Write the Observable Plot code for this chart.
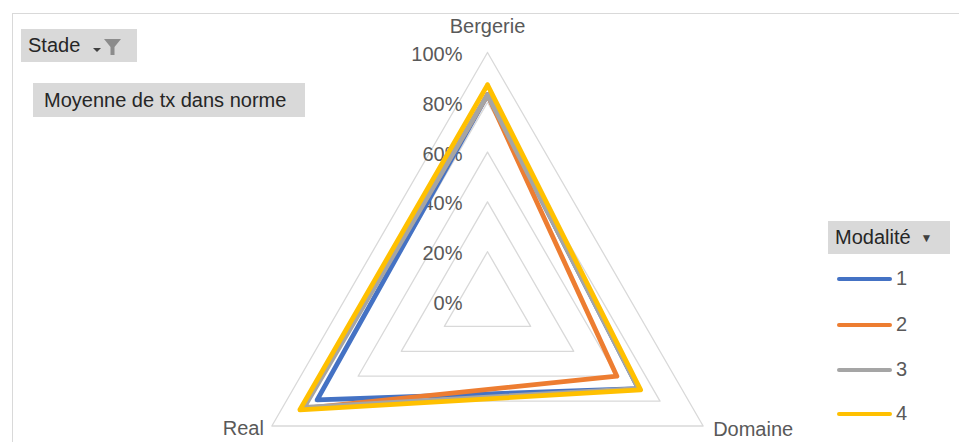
<!DOCTYPE html>
<html>
<head>
<meta charset="utf-8">
<script src="https://cdn.jsdelivr.net/npm/d3@7"></script>
<script src="https://cdn.jsdelivr.net/npm/@observablehq/plot@0.6"></script>
<style>
  body { margin: 0; background: #fff; font-family: "Liberation Sans", Arial, sans-serif; }
  #wrap { position: relative; width: 959px; height: 442px; overflow: hidden; background: #fff; }
  #chart { position: absolute; left: 0; top: 0; }
  #frame { position: absolute; left: 12px; top: 13px; width: 960px; height: 440px;
           border-top: 1px solid #d9d9d9; border-left: 1px solid #d9d9d9; }
  .btn { position: absolute; background: #d9d9d9; color: #262626; font-size: 20px;
         display: flex; align-items: center; box-sizing: border-box; white-space: nowrap; }
  .leg { position: absolute; left: 837px; display: flex; align-items: center; color: #595959; font-size: 20px; }
  .leg .sw { width: 55px; height: 4px; border-radius: 2px; margin-right: 4px; }
</style>
</head>
<body>
<div id="wrap">
  <div id="frame"></div>
  <div id="chart"></div>
  <div class="btn" id="stade" style="left:21px;top:29px;width:116px;height:33px;padding-left:7px;">
    <span>Stade</span>
    <svg width="40" height="24" style="margin-left:4px" viewBox="0 0 40 24">
      <path d="M9 14 L17 14 L13 18 Z" fill="#404040"/>
      <path d="M20 5 L37 5 L30.5 13 L30.5 21 L26.5 21 L26.5 13 Z" fill="#8c8c8c"/>
    </svg>
  </div>
  <div class="btn" id="measure" style="left:33px;top:83px;width:272px;height:34px;padding-left:11px;">Moyenne de tx dans norme</div>
  <div class="btn" id="legtitle" style="left:828px;top:221px;width:122px;height:33px;padding-left:7px;">
    <span>Modalité</span><span style="font-size:12px;margin-left:10px;color:#404040">&#9660;</span>
  </div>
  <div id="legend"></div>
</div>
<script>
// ---- data ----
const categories = ["Bergerie", "Domaine", "Real"];
const seriesNames = ["1", "2", "3", "4"];
const values1 = [0.83, 0.70, 0.79];
const values2 = [0.83, 0.60, 0.86];
const values3 = [0.83, 0.70, 0.85];
const values4 = [0.87, 0.71, 0.87];
const ringTicks = [0, 0.2, 0.4, 0.6, 0.8, 1.0];
const tickLabels = ["0%", "20%", "40%", "60%", "80%", "100%"];
const colors = ["#4472C4", "#ED7D31", "#A5A5A5", "#FFC000"];

// ---- geometry helpers (from data -> polar -> cartesian) ----
const seriesValues = [values1, values2, values3, values4];
const n = categories.length;
const ang = i => (i * 2 * Math.PI) / n;
const px = (r, i) => r * Math.sin(ang(i));
const py = (r, i) => r * Math.cos(ang(i));
const closed = [...d3.range(n), 0];

const lines = [];
seriesNames.forEach((s, k) => {
  closed.forEach(i => lines.push({ series: s, x: px(seriesValues[k][i], i), y: py(seriesValues[k][i], i) }));
});
const rings = [];
ringTicks.filter(t => t > 0).forEach(t => {
  closed.forEach(i => rings.push({ ring: t, x: px(t, i), y: py(t, i) }));
});
const tickRows = ringTicks.map((t, i) => ({ x: 0, y: t, label: tickLabels[i] }));
const catRows = categories.map((c, i) => ({ name: c, x: px(1, i), y: py(1, i) }));

const R = 249, CX = 487, CY = 301, W = 959, H = 442;
const font = "Liberation Sans, Arial, sans-serif";

const chart = Plot.plot({
  width: W, height: H, margin: 0,
  style: { fontFamily: font, background: "transparent" },
  x: { domain: [-CX / R, (W - CX) / R], range: [0, W], axis: null },
  y: { domain: [-(H - CY) / R, CY / R], range: [H, 0], axis: null },
  color: { domain: seriesNames, range: colors },
  marks: [
    Plot.line(rings, { x: "x", y: "y", z: "ring", stroke: "#d9d9d9", strokeWidth: 1.3 }),
    Plot.text(tickRows, { x: "x", y: "y", text: "label", textAnchor: "end", dx: -25, dy: 2,
      fontSize: 20, fill: "#595959" }),
    Plot.text(catRows.filter((d, i) => i === 0), { x: "x", y: "y", text: "name", dy: -26,
      fontSize: 20, fill: "#595959" }),
    Plot.text(catRows.filter((d, i) => i === 1), { x: "x", y: "y", text: "name", textAnchor: "start", dx: 10, dy: 4,
      fontSize: 20, fill: "#595959" }),
    Plot.text(catRows.filter((d, i) => i === 2), { x: "x", y: "y", text: "name", textAnchor: "end", dx: -8, dy: 3,
      fontSize: 20, fill: "#595959" }),
    Plot.line(lines, { x: "x", y: "y", z: "series", stroke: "series", strokeWidth: 4.8,
      strokeLinejoin: "round", strokeLinecap: "round" })
  ]
});
document.getElementById("chart").appendChild(chart);

// legend (HTML, from the series arrays)
const legend = document.getElementById("legend");
const legendTops = [267, 313, 358, 402];
seriesNames.forEach((s, k) => {
  const d = document.createElement("div");
  d.className = "leg";
  d.style.top = legendTops[k] + "px";
  d.innerHTML = `<div class="sw" style="background:${colors[k]}"></div><span>${s}</span>`;
  legend.appendChild(d);
});
</script>
</body>
</html>
